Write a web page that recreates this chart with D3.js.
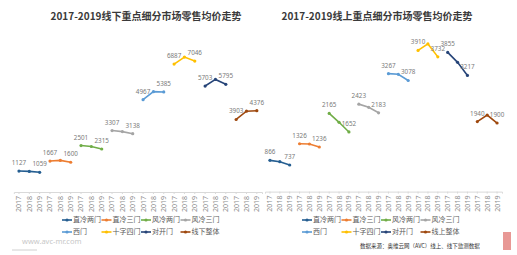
<!DOCTYPE html>
<html>
<head>
<meta charset="utf-8">
<script src="https://cdn.jsdelivr.net/npm/d3@7"></script>
<style>
    body { margin: 0; background: #fff; }
    svg { display: block; font-family: "Noto Sans CJK SC", "Noto Sans", sans-serif; }
</style>
</head>
<body>
<script>
var years = ["2017", "2018", "2019"];
var offline_names = ["直冷两门", "直冷三门", "风冷两门", "风冷三门", "西门", "十字四门", "对开门", "线下整体"];
var online_names = ["直冷两门", "直冷三门", "风冷两门", "风冷三门", "西门", "十字四门", "对开门", "线上整体"];
var offline_values = [
    [1127, 1110, 1059],
    [1667, 1700, 1600],
    [2501, 2450, 2315],
    [3307, 3250, 3138],
    [4967, 5400, 5385],
    [6887, 7260, 7046],
    [5703, 6060, 5795],
    [3903, 4350, 4376]
];
var online_values = [
    [866, 828, 737],
    [1326, 1318, 1236],
    [2165, 1920, 1652],
    [2423, 2335, 2183],
    [3267, 3250, 3078],
    [3910, 4090, 3732],
    [3855, 3580, 3217],
    [1940, 2120, 1900]
];
var colors = ["#255e91", "#ed7d31", "#70ad47", "#a5a5a5", "#5b9bd5", "#ffc000", "#264478", "#9e480e"];

var svg = d3.select("body").append("svg").attr("width", 517).attr("height", 255);

function draw_chart(opts) {
    var names = opts.names, values = opts.values;

    // one category per series/year pair
    var cats = [];
    names.forEach(function (n, i) {
        years.forEach(function (y) { cats.push(i + "_" + y); });
    });

    var x = d3.scaleBand().domain(cats).range([opts.x0, opts.x1]);
    var y = d3.scaleLinear().domain([0, opts.ymax]).range([opts.y0, opts.ytop]);
    var z = d3.scaleOrdinal().domain(names).range(colors);

    var g = svg.append("g");

    g.append("text")
        .attr("x", opts.titleX)
        .attr("y", 20)
        .attr("text-anchor", "middle")
        .attr("font-size", 10)
        .attr("font-weight", "bold")
        .attr("fill", "#3a3a3a")
        .text(opts.title);

    var axis = g.append("g")
        .attr("transform", "translate(0," + opts.y0 + ")")
        .call(d3.axisBottom(x).tickSize(2).tickFormat(function (d) {
            return d.split("_")[1];
        }));
    axis.select(".domain").attr("stroke", "#d9d9d9");
    axis.selectAll(".tick line").attr("stroke", "#d9d9d9");
    axis.selectAll(".tick text")
        .attr("transform", "rotate(-90)")
        .attr("x", -4)
        .attr("y", 0)
        .attr("dy", "0.35em")
        .attr("text-anchor", "end")
        .attr("font-size", 7)
        .attr("font-family", "Noto Sans")
        .attr("fill", "#8c8c8c");

    var line = d3.line()
        .x(function (d) { return x(d.cat) + x.bandwidth() / 2; })
        .y(function (d) { return y(d.v); });

    var groups = g.selectAll(".ser")
        .data(names.map(function (n, i) {
            return {
                name: n,
                pts: values[i].map(function (v, j) { return {cat: i + "_" + years[j], v: v, j: j}; })
            };
        }))
        .enter().append("g")
        .attr("class", "ser");

    groups.append("path")
        .attr("d", function (d) { return line(d.pts); })
        .attr("fill", "none")
        .attr("stroke", function (d) { return z(d.name); })
        .attr("stroke-width", 1.6);

    groups.selectAll("circle")
        .data(function (d) { return d.pts.map(function (p) { p.name = d.name; return p; }); })
        .enter().append("circle")
        .attr("cx", function (d) { return x(d.cat) + x.bandwidth() / 2; })
        .attr("cy", function (d) { return y(d.v); })
        .attr("r", 1.6)
        .attr("fill", function (d) { return z(d.name); });

    // labels only on first and last year
    groups.selectAll(".lbl")
        .data(function (d) { return d.pts.filter(function (p) { return p.j !== 1; }); })
        .enter().append("text")
        .attr("class", "lbl")
        .attr("x", function (d) { return x(d.cat) + x.bandwidth() / 2; })
        .attr("y", function (d) { return y(d.v) - 6; })
        .attr("text-anchor", "middle")
        .attr("font-size", 6.3)
        .attr("font-family", "Noto Sans")
        .attr("fill", "#7a7a7a")
        .text(function (d) { return d.v; });

    // legend, two rows of four
    var leg = g.selectAll(".leg")
        .data(names)
        .enter().append("g")
        .attr("class", "leg")
        .attr("transform", function (d, i) {
            return "translate(" + (opts.legX + (i % 4) * 39.5) + "," + (i < 4 ? 220 : 232) + ")";
        });
    leg.append("line")
        .attr("x1", 0).attr("x2", 10)
        .attr("stroke", function (d) { return z(d); })
        .attr("stroke-width", 1.6);
    leg.append("circle")
        .attr("cx", 5).attr("r", 1.6)
        .attr("fill", function (d) { return z(d); });
    leg.append("text")
        .attr("x", 11)
        .attr("dy", "0.35em")
        .attr("font-size", 7)
        .attr("fill", "#5a5a5a")
        .text(function (d) { return d; });
}

draw_chart({
    title: "2017-2019线下重点细分市场零售均价走势",
    titleX: 146,
    names: offline_names,
    values: offline_values,
    x0: 13.8, x1: 262,
    y0: 192, ytop: 192 - 8000 * 0.01858, ymax: 8000,
    legX: 62
});

draw_chart({
    title: "2017-2019线上重点细分市场零售均价走势",
    titleX: 377,
    names: online_names,
    values: online_values,
    x0: 265, x1: 502,
    y0: 191.6, ytop: 191.6 - 4000 * 0.0361, ymax: 4000,
    legX: 302
});

// watermark / source bits
svg.append("text")
    .attr("x", 22).attr("y", 244)
    .attr("font-size", 7.5)
    .attr("font-family", "Noto Sans")
    .attr("fill", "#c8c8c8")
    .text("www.avc-mr.com");
svg.append("line")
    .attr("x1", 12).attr("x2", 37).attr("y1", 250).attr("y2", 250)
    .attr("stroke", "#d0d0d0");
svg.append("text")
    .attr("x", 360).attr("y", 248)
    .attr("font-size", 5.5)
    .attr("fill", "#333")
    .text("数据来源：奥维云网（AVC）线上、线下监测数据");
svg.append("rect")
    .attr("x", 503).attr("y", 232).attr("width", 8).attr("height", 18)
    .attr("fill", "#d9534f").attr("opacity", 0.6);
</script>
</body>
</html>
